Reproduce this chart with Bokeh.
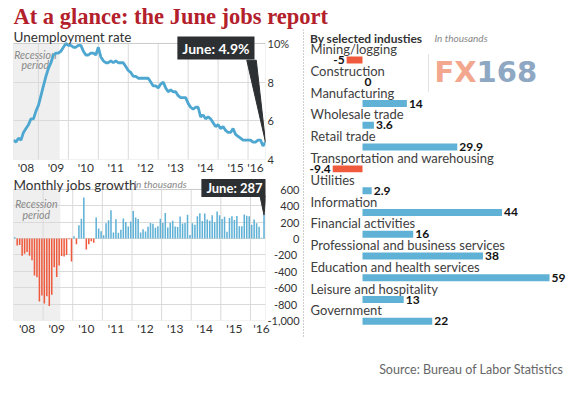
from bokeh.plotting import figure
from bokeh.layouts import column, row
from bokeh.models import Range1d, FixedTicker, Label, ColumnDataSource, BoxAnnotation, Span
from bokeh.embed import file_html
from bokeh.resources import INLINE
from bokeh.core.properties import value

# ---------------- data ----------------
year_labels = ["'08", "'09", "'10", "'11", "'12", "'13", "'14", "'15", "'16"]

# Unemployment rate, %, monthly Jan 2008 - Jun 2016
unemployment = [
    5.0, 4.9, 5.1, 5.0, 5.4, 5.6, 5.8, 6.1, 6.1, 6.5, 6.8, 7.3,
    7.8, 8.3, 8.7, 9.0, 9.4, 9.5, 9.5, 9.6, 9.8, 10.0, 9.9, 9.9,
    9.8, 9.8, 9.9, 9.9, 9.6, 9.4, 9.4, 9.5, 9.5, 9.4, 9.8, 9.3,
    9.1, 9.0, 9.0, 9.1, 9.0, 9.1, 9.0, 9.0, 9.0, 8.8, 8.6, 8.5,
    8.3, 8.3, 8.2, 8.2, 8.2, 8.2, 8.2, 8.0, 7.8, 7.8, 7.7, 7.9,
    8.0, 7.7, 7.5, 7.6, 7.5, 7.5, 7.3, 7.2, 7.2, 7.2, 6.9, 6.7,
    6.6, 6.7, 6.7, 6.2, 6.3, 6.1, 6.2, 6.1, 5.9, 5.7, 5.8, 5.6,
    5.7, 5.5, 5.4, 5.4, 5.6, 5.3, 5.2, 5.1, 5.0, 5.0, 5.0, 5.0,
    4.9, 4.9, 5.0, 5.0, 4.7, 4.9,
]

# Monthly change in payrolls, thousands, Jan 2008 - Jun 2016
jobs = [
    17, -84, -78, -210, -185, -165, -209, -266, -452, -473, -769, -695,
    -791, -703, -823, -686, -351, -470, -329, -212, -219, -200, -7, -279,
    28, -69, 163, 243, 500, -133, -70, -34, -52, 257, 123, 88,
    42, 188, 225, 346, 73, 235, 70, 107, 246, 202, 146, 207,
    338, 257, 239, 75, 115, 87, 143, 190, 181, 132, 149, 243,
    190, 311, 135, 192, 218, 146, 140, 269, 185, 189, 291, 45,
    187, 168, 272, 310, 213, 306, 232, 218, 286, 200, 331, 286,
    239, 265, 84, 251, 273, 228, 277, 150, 149, 295, 280, 271,
    168, 233, 186, 144, 11, 287,
]

industries = [
    "Mining/logging", "Construction", "Manufacturing", "Wholesale trade",
    "Retail trade", "Transportation and warehousing", "Utilities",
    "Information", "Financial activities", "Professional and business services",
    "Education and health services", "Leisure and hospitality", "Government",
]
industry_change = [-5, 0, 14, 3.6, 29.9, -9.4, 2.9, 44, 16, 38, 59, 13, 22]

recession_start, recession_end = -1, 18.5   # month index (Jan 2008 = 0)
latest_month = "June"

# ---------------- styles ----------------
FONT = "Lato"
BLUE = "#5fb1d6"
RED = "#ef5a3d"
LINE = "#4ea7d0"
GRID = "#dadada"
FRAME = "#a9a9a9"
SHADE = "#efefef"
TXT = "#333333"
GRAY = "#888888"
BOX = "#2d3033"
TITLE_RED = "#b3202b"

n = len(unemployment)
months = list(range(n))
last_m = n - 1


def headroom(lo, hi, box_px, extra_px):
    """range end that leaves extra_px of frame above a box of box_px for lo..hi"""
    return hi + (hi - lo) * extra_px / box_px


def strip(fig):
    fig.axis.visible = False
    fig.grid.visible = False
    fig.outline_line_color = None


def style_axes(fig):
    for ax in fig.axis:
        ax.axis_line_color = None
        ax.major_tick_line_color = None
        ax.minor_tick_line_color = None
        ax.major_tick_out = 0
        ax.major_tick_in = 0
        ax.minor_tick_out = 0
        ax.minor_tick_in = 0
        ax.major_label_text_font = FONT
        ax.major_label_text_color = TXT
    fig.outline_line_color = None
    fig.xgrid.visible = False
    fig.ygrid.grid_line_color = GRID


def callout(fig, x, y, text, xo, yo, size, vpad):
    pad = dict(left=5, right=5, top=vpad, bottom=vpad)
    shadow = Label(x=x, y=y, text=text, x_offset=xo + 2, y_offset=yo - 2,
                   text_align="right", text_baseline="middle",
                   text_font=FONT, text_font_size=size, text_font_style="bold",
                   text_alpha=0, background_fill_color="#000000",
                   background_fill_alpha=0.25, padding=pad)
    lab = Label(x=x, y=y, text=text, x_offset=xo, y_offset=yo,
                text_align="right", text_baseline="middle",
                text_font=FONT, text_font_size=size, text_font_style="bold",
                text_color="white", background_fill_color=BOX, padding=pad)
    fig.add_layout(shadow)
    fig.add_layout(lab)


# ---------------- title ----------------
tf = figure(width=569, height=29, x_range=Range1d(0, 569), y_range=Range1d(29, 0),
            title=None, toolbar_location=None, output_backend="svg", min_border=0)
strip(tf)
tf.text(x=[13], y=[16.4], text=["At a glance: the June jobs report"],
        text_font=value("Liberation Serif"), text_font_style="bold",
        text_font_size="22.5px", text_color=TITLE_RED, text_baseline="middle")

# ---------------- unemployment ----------------
u_lo, u_hi = 4, 10
top = figure(width=302, height=148, x_range=Range1d(0, last_m),
             y_range=Range1d(u_lo, headroom(u_lo, u_hi, 117, 14)),
             y_axis_location="right", title=None, toolbar_location=None, output_backend="svg",
             min_border_left=13, min_border_right=24, min_border_top=0, min_border_bottom=17)
style_axes(top)
top_label_ticks = [min(12 * k + 5, last_m - 4) for k in range(len(year_labels))]
top.xaxis.ticker = FixedTicker(ticks=top_label_ticks)
top.xaxis.major_label_overrides = {t: lab for t, lab in zip(top_label_ticks, year_labels)}
top.xaxis.major_label_text_font_size = "12px"
top.xaxis.major_label_standoff = 0
top.yaxis.ticker = FixedTicker(ticks=[4, 6, 8, 10])
top.yaxis.major_label_overrides = {10: "10%"}
top.yaxis.major_label_text_font_size = "11px"
top.yaxis.major_label_standoff = 2

top.add_layout(BoxAnnotation(left=recession_start, right=recession_end, bottom=u_lo, top=u_hi,
                             fill_color=SHADE, fill_alpha=1, line_color=None, level="image"))
top_grid = [12 * k - 2 for k in range(1, len(year_labels))]
top.segment(x0=top_grid, y0=[u_lo] * len(top_grid), x1=top_grid, y1=[u_hi] * len(top_grid),
            line_color=GRID, line_width=1)
top.text(x=[(recession_start + recession_end) / 2], y=[9.72], text=["Recession\nperiod"],
         text_align="center", text_baseline="top", text_font=value(FONT),
         text_font_style="italic", text_font_size="10.5px", text_color=GRAY,
         text_line_height=0.85)
top.line(months, unemployment, line_color=LINE, line_width=2.8)
top.add_layout(BoxAnnotation(left=0, right=last_m, bottom=u_lo, top=u_hi, fill_alpha=0,
                             line_color=FRAME, line_width=1))
top.patch(x=[last_m - 7.5, last_m - 3.7, last_m], y=[9.13, 9.13, unemployment[-1]],
          fill_color=BOX, line_color=BOX)
top.add_layout(Label(x=0, y=u_hi, y_offset=6, text="Unemployment rate",
                     text_font=FONT, text_font_size="13.5px", text_color=TXT,
                     text_baseline="middle"))
callout(top, last_m, unemployment[-1], f"{latest_month}: {unemployment[-1]}%", -11, 94,
        "14px", 3)

# ---------------- jobs ----------------
j_lo, j_hi = -1000, 600
bot = figure(width=302, height=161, x_range=Range1d(-0.5, last_m + 0.6),
             y_range=Range1d(j_lo, headroom(j_lo, j_hi, 132, 12)), y_axis_location="right",
             title=None, toolbar_location=None, output_backend="svg",
             min_border_left=13, min_border_right=35, min_border_top=0, min_border_bottom=17)
style_axes(bot)
bot_label_ticks = [min(12 * k + 5, last_m - 1) for k in range(len(year_labels))]
bot.xaxis.ticker = FixedTicker(ticks=bot_label_ticks)
bot.xaxis.major_label_overrides = {t: lab for t, lab in zip(bot_label_ticks, year_labels)}
bot.xaxis.major_label_text_font_size = "12px"
bot.xaxis.major_label_standoff = 0

jobs_ticks = list(range(j_lo, j_hi + 1, 200))


def padded(v):
    # right-align the labels with figure spaces
    widths = {"-": 0.34, ",": 0.22}

    def w(s):
        return sum(widths.get(c, 0.58) for c in s)
    s = f"{v:,}"
    wmax = max(w(f"{t:,}") for t in jobs_ticks)
    return "\u2007" * int(round((wmax - w(s)) / 0.58)) + s


bot.yaxis.ticker = FixedTicker(ticks=jobs_ticks)
bot.yaxis.major_label_overrides = {t: padded(t) for t in jobs_ticks}
bot.yaxis.major_label_text_font_size = "11px"
bot.yaxis.major_label_standoff = 2

bot.add_layout(BoxAnnotation(left=recession_start, right=recession_end, bottom=j_lo, top=j_hi,
                             fill_color=SHADE, fill_alpha=1, line_color=None, level="image"))
bot_grid = [12 * k - 0.5 for k in range(1, len(year_labels))]
bot.segment(x0=bot_grid, y0=[j_lo] * len(bot_grid), x1=bot_grid, y1=[j_hi] * len(bot_grid),
            line_color=GRID, line_width=1)
bot.text(x=[(recession_start + recession_end) / 2], y=[490], text=["Recession\nperiod"],
         text_align="center", text_baseline="top", text_font=value(FONT),
         text_font_style="italic", text_font_size="10.5px", text_color=GRAY,
         text_line_height=0.85)
jsrc = ColumnDataSource(dict(x=months, top=jobs, color=[RED if v < 0 else BLUE for v in jobs]))
bot.vbar(x="x", top="top", bottom=0, width=0.62, fill_color="color", line_color=None, source=jsrc)
bot.add_layout(BoxAnnotation(left=-0.5, right=last_m + 0.6, bottom=j_lo, top=j_hi, fill_alpha=0,
                             line_color=FRAME, line_width=1))
bot.patch(x=[last_m - 1.6, last_m + 0.8, last_m], y=[515, 515, jobs[-1]],
          fill_color=BOX, line_color=BOX)
bot.add_layout(Label(x=-0.5, y=j_hi, y_offset=4, text="Monthly jobs growth",
                     text_font=FONT, text_font_size="13.5px", text_color=TXT,
                     text_baseline="middle"))
bot.add_layout(Label(x=-0.5, y=j_hi, y_offset=5, x_offset=120, text="In thousands",
                     text_font=FONT, text_font_size="10px", text_font_style="italic",
                     text_color=GRAY, text_baseline="middle"))
callout(bot, last_m, jobs[-1], f"{latest_month}: {jobs[-1]}", 3.5, 27, "13px", 1)

# ---------------- industries ----------------
rf = figure(width=267, height=309, x_range=Range1d(-18.93, 65.3), y_range=Range1d(13.29, -0.9),
            title=None, toolbar_location=None, output_backend="svg", min_border=0)
strip(rf)
rows = list(range(len(industries)))
rsrc = ColumnDataSource(dict(
    row=rows,
    bar_y=[r + 0.5 for r in rows],
    change=industry_change,
    name=industries,
    name_x=[-16.4] * len(rows),
    label=[f"{v:g}" for v in industry_change],
    color=[RED if v < 0 else BLUE for v in industry_change],
    align=["right" if v < 0 else "left" for v in industry_change],
    xoff=[-2 if v < 0 else 2 for v in industry_change],
))
rf.add_layout(Span(location=-18.6, dimension="height", line_color="#9a9a9a",
                   line_width=1, line_dash="1 2"))
rf.hbar(y="bar_y", left=0, right="change", height=0.32, fill_color="color",
        line_color=None, source=rsrc)
rf.text(x="name_x", y="row", text="name", text_baseline="middle", text_font=value(FONT),
        text_font_size="13px", text_color="#404040", source=rsrc)
rf.text(x="change", y="bar_y", text="label", text_align="align", x_offset="xoff",
        text_baseline="middle", text_font=value(FONT), text_font_style="bold",
        text_font_size="12px", text_color="#111111", source=rsrc)
rf.text(x=[-16.6], y=[-0.5], text=["By selected industies"], text_baseline="middle",
        text_font=value(FONT), text_font_style="bold", text_font_size="12px", text_color=TXT)
rf.text(x=[22.7], y=[-0.5], text=["In thousands"], text_baseline="middle",
        text_font=value(FONT), text_font_style="italic", text_font_size="10px", text_color=GRAY)
# watermark
rf.segment(x0=[20.8], y0=[0.23], x1=[20.8], y1=[1.97], line_color="#e2e2e2", line_width=1)
rf.text(x=[36.0], y=[1.05], text=["FX"], text_align="right", text_baseline="middle",
        text_font=value("DejaVu Sans"), text_font_style="bold", text_font_size="29px",
        text_color="#f2a78e")
rf.text(x=[36.0], y=[1.05], text=["168"], text_align="left", text_baseline="middle",
        text_font=value("DejaVu Sans"), text_font_style="bold", text_font_size="29px",
        text_color="#8ea8c3")

# ---------------- source ----------------
sf = figure(width=569, height=60, x_range=Range1d(0, 569), y_range=Range1d(60, 0),
            title=None, toolbar_location=None, output_backend="svg", min_border=0)
strip(sf)
sf.text(x=[563], y=[31], text=["Source: Bureau of Labor Statistics"], text_align="right",
        text_baseline="middle", text_font=value(FONT), text_font_size="12.5px",
        text_color="#666666")

page = column(tf, row(column(top, bot), rf), sf)
open("out.html", "w").write(file_html(page, INLINE))
